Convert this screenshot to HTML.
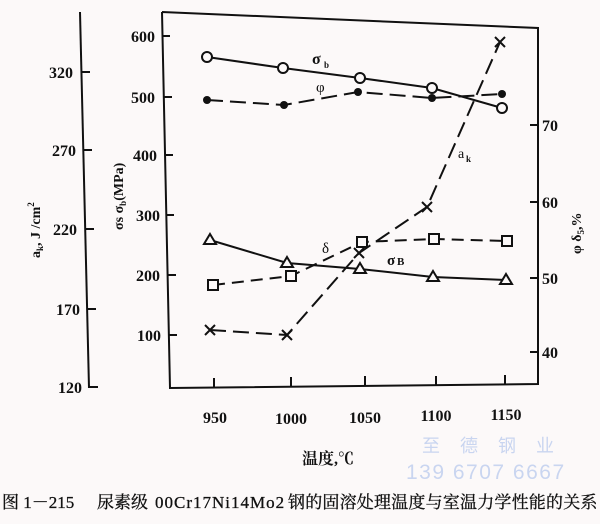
<!DOCTYPE html>
<html><head><meta charset="utf-8"><style>
html,body{margin:0;padding:0;background:#fcf9f9;}
svg{display:block;}
.n{font-family:"Liberation Serif",serif;font-weight:bold;font-size:16px;fill:#111;}
.c{font-family:"Liberation Serif","Noto Serif CJK SC",serif;fill:#111;}
</style></head><body>
<svg width="600" height="524" viewBox="0 0 600 524" xmlns="http://www.w3.org/2000/svg">
<rect width="600" height="524" fill="#fcf9f9"/>
<g stroke="#111" stroke-width="2" fill="none">
<line x1="80" y1="12" x2="89" y2="388"/>
<line x1="81.4" y1="72" x2="90" y2="72"/>
<line x1="83.3" y1="150" x2="92" y2="150"/>
<line x1="85.2" y1="229" x2="94" y2="229"/>
<line x1="87.1" y1="309" x2="96" y2="309"/>
<line x1="89" y1="387" x2="98" y2="387"/>
<polyline points="162,12 538,28 538,384 170,388 162,12"/>
<line x1="163" y1="36" x2="170" y2="36"/>
<line x1="164" y1="97" x2="172" y2="97"/>
<line x1="165.5" y1="155" x2="173" y2="155"/>
<line x1="167" y1="215" x2="174" y2="215"/>
<line x1="168" y1="275" x2="176" y2="275"/>
<line x1="169" y1="335" x2="177" y2="335"/>
<line x1="530" y1="125" x2="538" y2="125"/>
<line x1="530" y1="202" x2="538" y2="202"/>
<line x1="530" y1="278" x2="538" y2="278"/>
<line x1="530" y1="352" x2="538" y2="352"/>
<line x1="214" y1="388" x2="214" y2="378"/>
<line x1="291" y1="387" x2="291" y2="377"/>
<line x1="365" y1="386" x2="365" y2="376"/>
<line x1="436" y1="386" x2="436" y2="376"/>
<line x1="505" y1="385" x2="505" y2="375"/>
</g>
<g fill="none" stroke="#111" stroke-width="2">
<polyline points="207,57 283,68 360,78 432,88 502,108"/>
<polyline points="207,100 284,105 358,92 432,98 502,94" stroke-dasharray="16,7"/>
<polyline points="210,240 287,263 360,269 433,277 506,280"/>
<polyline points="213,285 291,276 362,242 434,239 507,241" stroke-dasharray="12,7"/>
<polyline points="210,330 287,335 359,253 427,207 500,42" stroke-dasharray="16,7"/>
</g>
<g stroke="#111" stroke-width="2" fill="#fcf9f9">
<circle cx="207" cy="57" r="5"/><circle cx="283" cy="68" r="5"/><circle cx="360" cy="78" r="5"/><circle cx="432" cy="88" r="5"/><circle cx="502" cy="108" r="5"/>
<polygon points="210,234 216,244 204,244"/><polygon points="287,257 293,267 281,267"/><polygon points="360,263 366,273 354,273"/><polygon points="433,271 439,281 427,281"/><polygon points="506,274 512,284 500,284"/>
<rect x="208" y="280" width="10" height="10"/><rect x="286" y="271" width="10" height="10"/><rect x="357" y="237" width="10" height="10"/><rect x="429" y="234" width="10" height="10"/><rect x="502" y="236" width="10" height="10"/>
</g>
<g fill="#111">
<circle cx="207" cy="100" r="4"/><circle cx="284" cy="105" r="4"/><circle cx="358" cy="92" r="4"/><circle cx="432" cy="98" r="4"/><circle cx="502" cy="94" r="4"/>
</g>
<g stroke="#111" stroke-width="2">
<path d="M205,325 L215,335 M215,325 L205,335"/>
<path d="M282,330 L292,340 M292,330 L282,340"/>
<path d="M354,248 L364,258 M364,248 L354,258"/>
<path d="M422,202 L432,212 M432,202 L422,212"/>
<path d="M495,37 L505,47 M505,37 L495,47"/>
</g>
<g class="n" text-anchor="end">
<text x="73" y="78">320</text>
<text x="76" y="156">270</text>
<text x="77" y="235">220</text>
<text x="80" y="315">170</text>
<text x="82" y="393">120</text>
<text x="155" y="42">600</text>
<text x="155" y="103">500</text>
<text x="157" y="161">400</text>
<text x="160" y="221">300</text>
<text x="160" y="281">200</text>
<text x="161" y="341">100</text>
</g>
<g class="n">
<text x="542" y="131">70</text>
<text x="542" y="208">60</text>
<text x="542" y="284">50</text>
<text x="542" y="358">40</text>
</g>
<g class="n" text-anchor="middle">
<text x="215" y="423">950</text>
<text x="291" y="424">1000</text>
<text x="365" y="423">1050</text>
<text x="436" y="421">1100</text>
<text x="506" y="420">1150</text>
</g>
<g class="c" font-weight="bold">
<text x="312" y="64" font-size="16">σ</text><text x="324" y="68" font-size="9">b</text>
<text x="316" y="92" font-size="15" font-weight="normal">φ</text>
<text x="387" y="265" font-size="15">σ</text><text x="397" y="265" font-size="11">B</text>
<text x="322" y="253" font-size="15" font-weight="normal">δ</text>
<text x="458" y="158" font-size="14" font-weight="normal">a</text><text x="466" y="162" font-size="9">k</text>
</g>
<text class="c" font-size="14" font-weight="bold" transform="translate(40,258) rotate(-90)">a<tspan font-size="9" dy="3">k</tspan><tspan dy="-3">, J /cm</tspan><tspan font-size="9" dy="-6">2</tspan></text>
<text class="c" font-size="14" font-weight="bold" transform="translate(123,230) rotate(-90)">σs σ<tspan font-size="9" dy="3">b</tspan><tspan dy="-3">(MPa)</tspan></text>
<text class="c" font-size="14" font-weight="bold" transform="translate(581,254) rotate(-90)">φ δ<tspan font-size="9" dy="3">5</tspan><tspan dy="-3">,%</tspan></text>
<text class="c" x="302" y="464" font-size="16" font-weight="bold">温度,℃</text>
<g fill="#c9d5f0" font-family="Liberation Sans,'Noto Sans CJK SC',sans-serif">
<text x="422" y="452" font-size="18" letter-spacing="20">至德钢业</text>
<text x="406" y="479" font-size="21" letter-spacing="1.5">139 6707 6667</text>
</g>
<text class="c" x="2" y="508" font-size="17" stroke="#111" stroke-width="0.3">图 1－215<tspan x="97">尿素级</tspan><tspan x="155" letter-spacing="1">00Cr17Ni14Mo2</tspan><tspan x="288" letter-spacing="0.2">钢的固溶处理温度与室温力学性能的关系</tspan></text>
</svg>
</body></html>
